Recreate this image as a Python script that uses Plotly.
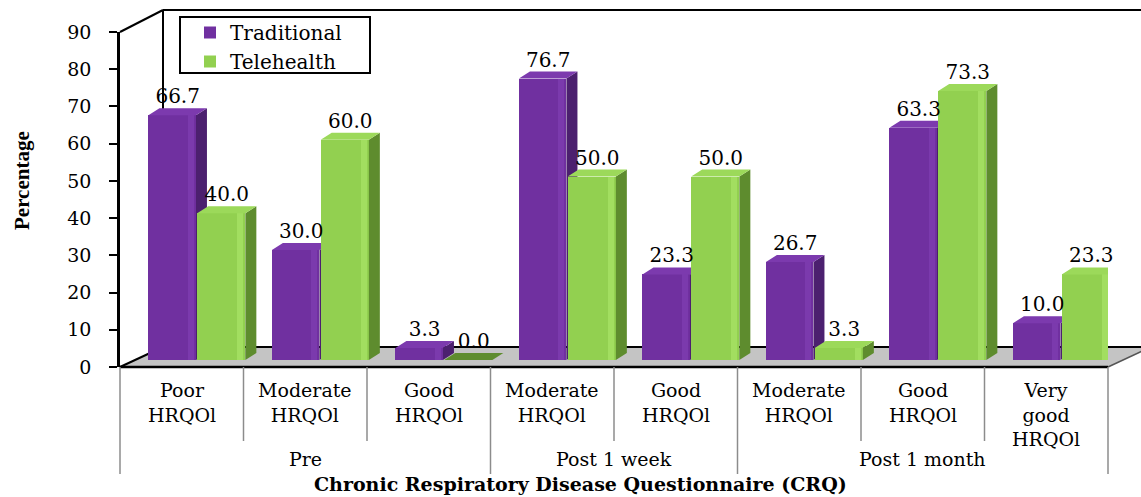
import plotly.graph_objects as go

# ---------------- data ----------------
periods = ["Pre", "Pre", "Pre", "Post 1 week", "Post 1 week",
           "Post 1 month", "Post 1 month", "Post 1 month"]
levels = ["Poor\nHRQOl", "Moderate\nHRQOl", "Good\nHRQOl", "Moderate\nHRQOl",
          "Good\nHRQOl", "Moderate\nHRQOl", "Good\nHRQOl", "Very\ngood\nHRQOl"]
traditional = [66.7, 30.0, 3.3, 76.7, 23.3, 26.7, 63.3, 10.0]
telehealth = [40.0, 60.0, 0.0, 50.0, 50.0, 3.3, 73.3, 23.3]
y_ticks = [0, 10, 20, 30, 40, 50, 60, 70, 80, 90]

# ---------------- geometry (pixels) ----------------
W, H = 1141, 497
PL, PR, PT, PB = 120, 1108, 32, 367          # front plot box
PW, PH = PR - PL, PB - PT
DEPTH_X, DEPTH_Y = 43, 20                     # depth of the 3-D floor / walls
FLOOR_LIFT = 7                                # bars stand a little behind the front edge
UNIT_PX = 3.67                                # bar pixels per percent
N = len(levels)
CAT_PX = PW / N
SIDE_PX, TOP_PX = 11, 7                       # bar depth (side and top faces)
SHINE_PX = 6                                  # bevel highlight strip on the front face

SERIF = "DejaVu Serif"
BLACK = "#000000"


def px_x(p):
    return (p - PL) / PW


def px_y(p):
    return (PB - p) / PH


bar_lo = -FLOOR_LIFT / UNIT_PX
bar_hi = (PH - FLOOR_LIFT) / UNIT_PX
dx = SIDE_PX / CAT_PX
dy = TOP_PX / UNIT_PX
shine = SHINE_PX / CAT_PX

series = [
    dict(name="Traditional", values=traditional, axis="y2", offset=-0.27, width=0.385,
         front="#7030A0", shine="#7B3AAD", side="#4C206F", top="#7C3AAE"),
    dict(name="Telehealth", values=telehealth, axis="y3", offset=0.125, width=0.39,
         front="#92D050", shine="#A2DE60", side="#5E8C2E", top="#9CD95A"),
]

fig = go.Figure()
xs = list(range(N))

# invisible anchor trace for the percentage scale, so its axis is drawn
fig.add_trace(go.Scatter(
    x=[-0.5] * len(y_ticks), y=y_ticks, mode="markers",
    marker=dict(opacity=0), showlegend=False, hoverinfo="skip",
))

for s in series:
    vals = s["values"]
    fig.add_trace(go.Bar(
        x=xs, y=vals, name=s["name"], yaxis=s["axis"],
        offset=s["offset"], width=s["width"],
        marker=dict(color=s["front"], line=dict(width=0)),
        hoverinfo="skip",
    ))
    # bevel highlight near the right edge of the front face
    fig.add_trace(go.Bar(
        x=xs, y=vals, yaxis=s["axis"],
        offset=s["offset"] + s["width"] - shine - 2 / CAT_PX, width=shine,
        marker=dict(color=s["shine"], line=dict(width=0)),
        showlegend=False, hoverinfo="skip",
    ))
    # side faces
    sx, sy = [], []
    for i, v in enumerate(vals):
        x1 = i + s["offset"] + s["width"]
        sx += [x1, x1 + dx, x1 + dx, x1, x1, None]
        sy += [0, dy, v + dy, v, 0, None]
    fig.add_trace(go.Scatter(
        x=sx, y=sy, yaxis=s["axis"], mode="lines", fill="toself",
        fillcolor=s["side"], line=dict(width=0, color=s["side"]),
        showlegend=False, hoverinfo="skip",
    ))
    # top faces (a zero-height bar shows its top in shadow)
    for lit in (True, False):
        tx, ty = [], []
        for i, v in enumerate(vals):
            if (v > 0) != lit:
                continue
            x0 = i + s["offset"]
            x1 = x0 + s["width"]
            tx += [x0, x0 + dx, x1 + dx, x1, x0, None]
            ty += [v, v + dy, v + dy, v, v, None]
        if tx:
            col = s["top"] if lit else s["side"]
            fig.add_trace(go.Scatter(
                x=tx, y=ty, yaxis=s["axis"], mode="lines", fill="toself",
                fillcolor=col, line=dict(width=0, color=col),
                showlegend=False, hoverinfo="skip",
            ))

# value labels
for s in series:
    vals = s["values"]
    fig.add_trace(go.Scatter(
        x=[i + s["offset"] + s["width"] / 2 + dx / 2 for i in xs],
        y=[v + dy for v in vals],
        yaxis="y3", mode="text", text=[f"{v:.1f}" for v in vals],
        textposition="top center", cliponaxis=False,
        textfont=dict(family=SERIF, size=20, color=BLACK),
        showlegend=False, hoverinfo="skip",
    ))

# ---------------- decoration: floor and walls ----------------
shapes = []
fl = [(PL, PB), (PR, PB), (PR + DEPTH_X, PB - DEPTH_Y), (PL + DEPTH_X, PB - DEPTH_Y)]
path = "M " + " L ".join(f"{px_x(a):.5f},{px_y(b):.5f}" for a, b in fl) + " Z"
shapes.append(dict(type="path", path=path, xref="paper", yref="paper", layer="below",
                   fillcolor="#C4C4C4", line=dict(width=0)))


def seg(x0, y0, x1, y1, width=2, color=BLACK, layer="below"):
    shapes.append(dict(type="line", xref="paper", yref="paper", layer=layer,
                       x0=px_x(x0), y0=px_y(y0), x1=px_x(x1), y1=px_y(y1),
                       line=dict(color=color, width=width)))


top_y = PT - DEPTH_Y - 2
seg(PL + DEPTH_X, PB - DEPTH_Y, PL + DEPTH_X, top_y)          # back wall left edge
seg(PL + DEPTH_X, top_y, W, top_y)                            # back wall top edge
seg(PL, PT, PL + DEPTH_X, top_y)                              # side wall top edge
seg(PL + DEPTH_X, PB - DEPTH_Y, W, PB - DEPTH_Y)              # floor back edge
seg(PL, PB, PL + DEPTH_X, PB - DEPTH_Y)                       # floor left edge
seg(PR, PB, PR + DEPTH_X, PB - DEPTH_Y, width=1.5, color="#555555")
seg(PL, PB, PR, PB, width=2.5, layer="above")                 # floor front edge

# category / period dividers under the axis
group_edges = [0] + [i for i in range(1, N) if periods[i] != periods[i - 1]] + [N]
for k in range(N + 1):
    xk = PL + k * CAT_PX
    bottom = 474 if k in group_edges else 441
    seg(xk, PB, xk, bottom, width=1.5, color="#8C8C8C", layer="above")

# legend frame
shapes.append(dict(type="rect", xref="paper", yref="paper", layer="above",
                   x0=px_x(180), x1=px_x(370), y0=px_y(17), y1=px_y(73),
                   line=dict(color=BLACK, width=2), fillcolor="rgba(0,0,0,0)"))

# ---------------- text ----------------
annotations = []
for i, lab in enumerate(levels):
    annotations.append(dict(
        x=i, xref="x", y=px_y(377), yref="paper",
        text=lab.replace("\n", "<br>"), showarrow=False,
        xanchor="center", yanchor="top", align="center",
        font=dict(family=SERIF, size=19, color=BLACK)))

for g0, g1 in zip(group_edges[:-1], group_edges[1:]):
    annotations.append(dict(
        x=(g0 + g1 - 1) / 2, xref="x", y=px_y(459), yref="paper",
        text=periods[g0], showarrow=False, xanchor="center", yanchor="middle",
        font=dict(family=SERIF, size=19, color=BLACK)))

annotations.append(dict(
    x=px_x(580), xref="paper", y=px_y(H), yref="paper",
    text="<b>Chronic Respiratory Disease Questionnaire (CRQ)</b>", showarrow=False,
    xanchor="center", yanchor="bottom",
    font=dict(family=SERIF, size=19, color=BLACK)))

annotations.append(dict(
    x=px_x(22), xref="paper", y=px_y(181), yref="paper",
    text="<b>Percentage</b>", showarrow=False, textangle=-90,
    xanchor="center", yanchor="middle",
    font=dict(family="Liberation Serif", size=21, color=BLACK)))

fig.update_layout(
    width=W, height=H,
    margin=dict(l=PL, r=W - PR, t=PT, b=H - PB, pad=0),
    paper_bgcolor="white", plot_bgcolor="rgba(0,0,0,0)",
    barmode="overlay", bargap=0,
    showlegend=True,
    legend=dict(x=px_x(190), y=px_y(13), xanchor="left", yanchor="top",
                bgcolor="rgba(0,0,0,0)", borderwidth=0,
                font=dict(family=SERIF, size=20, color=BLACK),
                tracegroupgap=0, itemwidth=30),
    xaxis=dict(range=[-0.5, N - 0.5], visible=False, fixedrange=True),
    yaxis=dict(range=[0, 90], tickvals=y_ticks, ticks="outside", ticklen=8,
               tickwidth=1.5, tickcolor=BLACK, showline=True, linecolor=BLACK,
               linewidth=2.5, showgrid=False, zeroline=False, ticklabelstandoff=14,
               tickfont=dict(family=SERIF, size=19, color=BLACK)),
    yaxis2=dict(range=[bar_lo, bar_hi], overlaying="y", visible=False),
    yaxis3=dict(range=[bar_lo, bar_hi], overlaying="y", visible=False),
    shapes=shapes, annotations=annotations,
)

fig.write_html("out.html")
